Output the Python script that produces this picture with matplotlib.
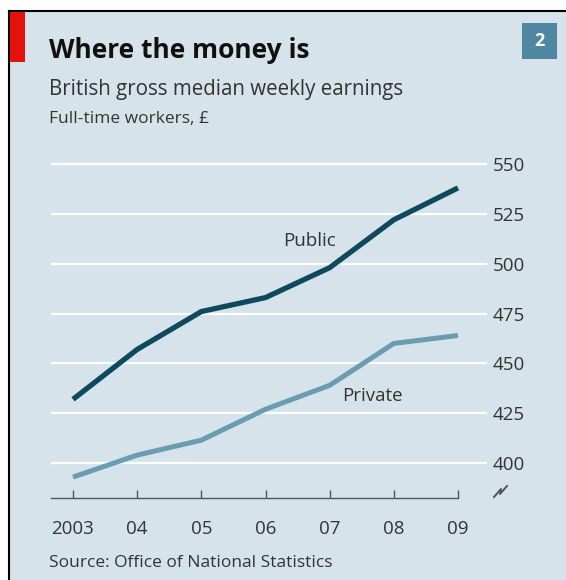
"""Economist-style line chart: British gross median weekly earnings."""
import numpy as np
import matplotlib
matplotlib.use('Agg')
import matplotlib.pyplot as plt
from matplotlib.patches import Rectangle
from matplotlib.lines import Line2D

years = [2003, 2004, 2005, 2006, 2007, 2008, 2009]
year_labels = ["2003", "04", "05", "06", "07", "08", "09"]
public = [432, 457, 476, 483, 498, 522, 538]
private = [393, 404, 411.5, 427, 439, 460, 464]
y_ticks = [400, 425, 450, 475, 500, 525, 550]

W, H = 566, 580
BG = "#d6e3eb"
PUBLIC_C = "#10495e"
PRIVATE_C = "#6b9db0"
TEXT_C = "#333333"
FONT = ["Open Sans", "DejaVu Sans"]

plt.rcParams['font.family'] = FONT

fig = plt.figure(figsize=(W / 100, H / 100), dpi=100, facecolor="white")


def fx(x):
    return x / W


def fy(y):
    return 1 - y / H


# panel background + frame
fig.patches.append(Rectangle((fx(9), 0), 1 - fx(9), fy(11), transform=fig.transFigure,
                             facecolor=BG, edgecolor="none", zorder=-10))
fig.lines.append(Line2D([fx(9), fx(9)], [0, fy(11)], transform=fig.transFigure,
                        color="black", linewidth=1.5, zorder=-5))
fig.lines.append(Line2D([fx(9), 1], [fy(11), fy(11)], transform=fig.transFigure,
                        color="black", linewidth=1.5, zorder=-5))
fig.patches.append(Rectangle((fx(10), fy(62)), fx(15), fy(12) - fy(62),
                             transform=fig.transFigure, facecolor="#e3120b",
                             edgecolor="none", zorder=-5))
fig.patches.append(Rectangle((fx(522), fy(59)), fx(35), fy(23) - fy(59),
                             transform=fig.transFigure, facecolor="#4f87a2",
                             edgecolor="none", zorder=-5))
fig.text(fx(539.5), fy(41), "2", color="white", fontsize=13, fontweight="bold",
         ha="center", va="center")

# titles
fig.text(fx(49), fy(51), "Where the money is", fontsize=19, fontweight="bold",
         color="#111111", va="center")
fig.text(fx(49), fy(90), "British gross median weekly earnings", fontsize=14.8,
         color=TEXT_C, va="center")
fig.text(fx(49), fy(119), "Full-time workers, £", fontsize=12.5,
         color=TEXT_C, va="center")
fig.text(fx(49), fy(563), "Source: Office of National Statistics", fontsize=12.5,
         color=TEXT_C, va="center")

# axes: x 51..487 px, y 154..498 px
ax = fig.add_axes([fx(51), fy(498), fx(487) - fx(51), fy(154) - fy(498)])
ax.set_facecolor("none")
x0 = 2003 - 22 / 64.17
x1 = 2009 + 29 / 64.17
ax.set_xlim(x0, x1)
ax.set_ylim(382.5, 555)

ax.plot(years, private, color=PRIVATE_C, linewidth=3.6, solid_capstyle="butt", zorder=3)
ax.plot(years, public, color=PUBLIC_C, linewidth=3.8, solid_capstyle="butt", zorder=3)

ax.set_yticks(y_ticks)
ax.yaxis.tick_right()
ax.tick_params(axis="y", length=0, pad=4, labelsize=13.5, labelcolor=TEXT_C)
ax.yaxis.grid(True, color="white", linewidth=1.6)
ax.set_axisbelow(True)

ax.set_xticks(years)
ax.set_xticklabels(year_labels)
ax.tick_params(axis="x", direction="in", length=6, width=1, color="#555555",
               pad=16, labelsize=13.5, labelcolor=TEXT_C)

for side in ["top", "right", "left"]:
    ax.spines[side].set_visible(False)
ax.spines["bottom"].set_color("#555555")
ax.spines["bottom"].set_linewidth(1)
ax.spines["bottom"].set_bounds(x0, 2009)

ax.text(2006.27, 511.5, "Public", fontsize=13.5, color=TEXT_C, ha="left", va="center")
ax.text(2007.19, 433.5, "Private", fontsize=13.5, color=TEXT_C, ha="left", va="center")

# axis break mark
fig.lines.append(Line2D([fx(494), fx(501), fx(500), fx(507)],
                        [fy(497), fy(489), fy(494), fy(486)],
                        transform=fig.transFigure, color="#555555", linewidth=1.4))

fig.savefig("out.png", dpi=100, facecolor="white")
